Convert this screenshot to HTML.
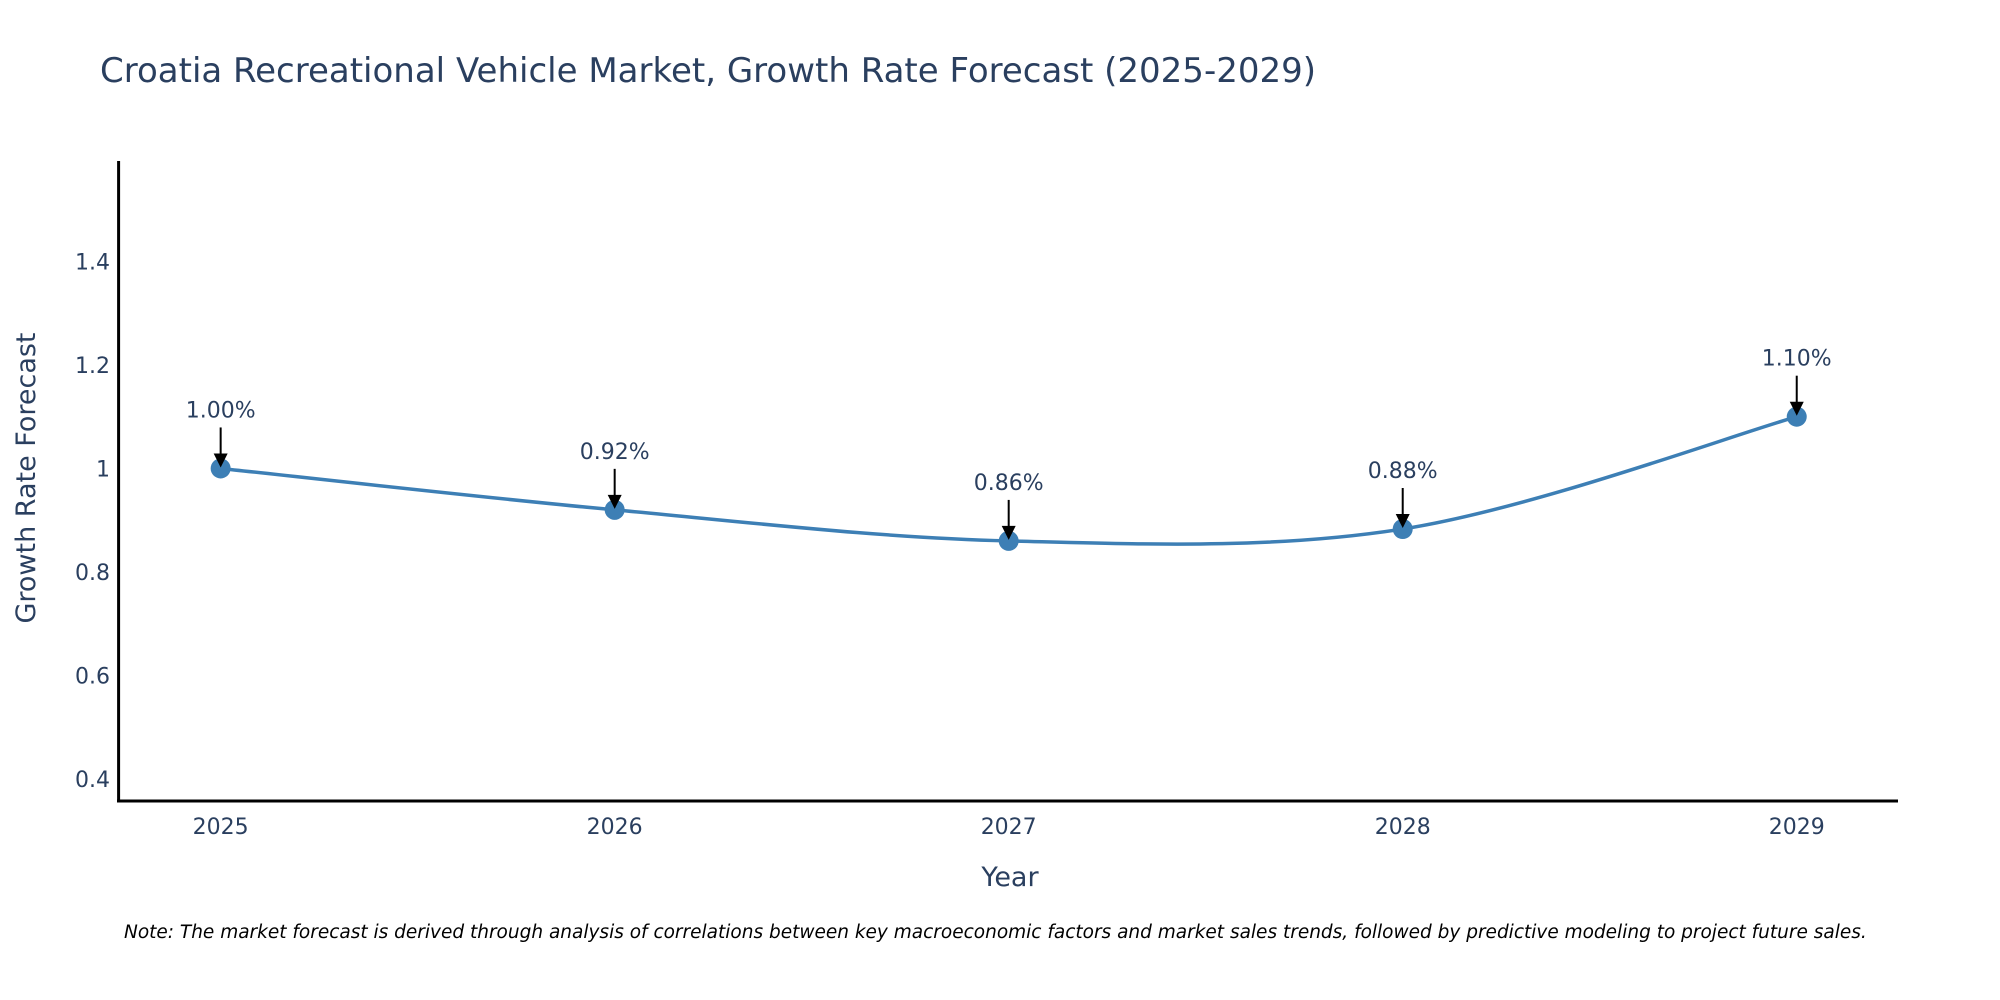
<!DOCTYPE html>
<html><head><meta charset="utf-8"><style>
body{margin:0;background:#fff;}
svg{display:block;font-family:"DejaVu Sans","Liberation Sans",sans-serif;}
</style></head><body>
<svg id="chart" width="2000" height="1000">
<text x="100" y="82" font-size="34" fill="#2a3f5f">Croatia Recreational Vehicle Market, Growth Rate Forecast (2025-2029)</text>
<g id="yticks"></g><g id="xticks"></g>
<line x1="118.6" y1="161" x2="118.6" y2="802" stroke="#000" stroke-width="3"/>
<line x1="117" y1="801" x2="1898" y2="801" stroke="#000" stroke-width="3"/>
<path id="line" fill="none" stroke="#3d7fb5" stroke-width="3.5"/>
<g id="points"></g><g id="ann"></g>
<text transform="translate(35,478) rotate(-90)" text-anchor="middle" font-size="27" fill="#2a3f5f">Growth Rate Forecast</text>
<text x="1010" y="886" text-anchor="middle" font-size="27" fill="#2a3f5f">Year</text>
<text x="124" y="938" font-size="18.5" font-style="italic" fill="#000">Note: The market forecast is derived through analysis of correlations between key macroeconomic factors and market sales trends, followed by predictive modeling to project future sales.</text>
</svg>
<script>
const years=[2025,2026,2027,2028,2029];
const values=[1.00,0.92,0.86,0.883,1.10];
const labels=["1.00%","0.92%","0.86%","0.88%","1.10%"];
const yTicks=[0.4,0.6,0.8,1,1.2,1.4];
const yTickLabels=["0.4","0.6","0.8","1","1.2","1.4"];
const NS="http://www.w3.org/2000/svg";
const X0=118.6,X1=1898,xmin=2024.741,xmax=2029.257;
const Y0=801,Y1=161,ymin=0.3575,ymax=1.594;
function sx(v){return X0+(v-xmin)/(xmax-xmin)*(X1-X0);}
function sy(v){return Y0-(v-ymin)/(ymax-ymin)*(Y0-Y1);}
function mk(t,a,p){const e=document.createElementNS(NS,t);for(const k in a)e.setAttribute(k,a[k]);p.appendChild(e);return e;}
const yt=document.getElementById('yticks');
yTicks.forEach((v,i)=>{const t=mk('text',{x:110,y:sy(v)+8,'text-anchor':'end','font-size':22,fill:'#2a3f5f'},yt);


t.textContent=yTickLabels[i];});
const xt=document.getElementById('xticks');
years.forEach(v=>{const t=mk('text',{x:sx(v),y:834,'text-anchor':'middle','font-size':22,fill:'#2a3f5f'},xt);


t.textContent=String(v);});
const P=years.map((y,i)=>[sx(y),sy(values[i])]);
let d='M'+P[0][0]+','+P[0][1];
for(let i=0;i<P.length-1;i++){const p0=P[Math.max(0,i-1)],p1=P[i],p2=P[i+1],p3=P[Math.min(P.length-1,i+2)];const s=1/6;
d+=' C'+(p1[0]+(p2[0]-p0[0])*s)+','+(p1[1]+(p2[1]-p0[1])*s)+' '+(p2[0]-(p3[0]-p1[0])*s)+','+(p2[1]-(p3[1]-p1[1])*s)+' '+p2[0]+','+p2[1];}
document.getElementById('line').setAttribute('d',d);
const pg=document.getElementById('points'),ag=document.getElementById('ann');
P.forEach((p,i)=>{const c=mk('circle',{cx:p[0],cy:p[1],r:10,fill:'#3d7fb5'},pg);


const l=mk('line',{x1:p[0],y1:p[1]-41,x2:p[0],y2:p[1]-12,stroke:'#000','stroke-width':2},ag);


const h=mk('polygon',{points:(p[0]-7)+','+(p[1]-15)+' '+(p[0]+7)+','+(p[1]-15)+' '+p[0]+','+(p[1]-1),fill:'#000'},ag);


const t=mk('text',{x:p[0],y:p[1]-51,'text-anchor':'middle','font-size':22,fill:'#2a3f5f'},ag);


t.textContent=labels[i];});
</script>
</body></html>
